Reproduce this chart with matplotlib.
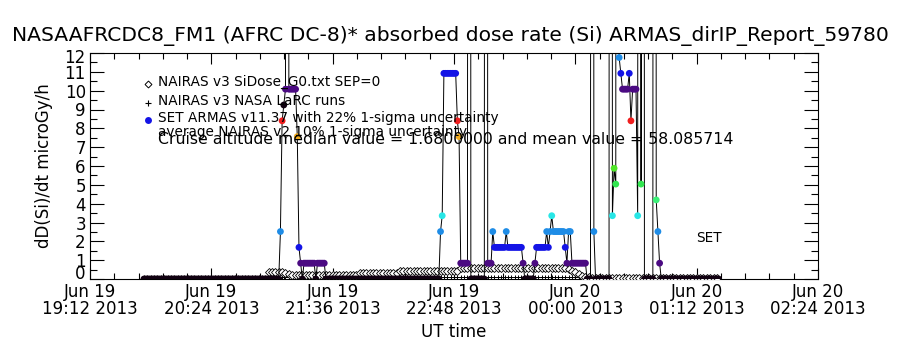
import matplotlib
matplotlib.use('Agg')
import matplotlib.pyplot as plt
from matplotlib.lines import Line2D
import matplotlib.transforms as mtransforms
import numpy as np

# ---------------- data ----------------
# time axis: minutes after Jun 19 19:12 UT
tick_minutes = [0, 72, 144, 216, 288, 360, 432]
tick_labels = ["Jun 19\n19:12 2013", "Jun 19\n20:24 2013", "Jun 19\n21:36 2013",
               "Jun 19\n22:48 2013", "Jun 20\n00:00 2013", "Jun 20\n01:12 2013",
               "Jun 20\n02:24 2013"]
y_ticks = [0, 1, 2, 3, 4, 5, 6, 7, 8, 9, 10, 11, 12]

# SET ARMAS: one sample per minute starting at minute 32, in counts (1 count = 0.84 microGy/h)
armas_start_minute = 32
dose_per_count = 0.84
armas_counts = [
    0,0,0,0,0,0,0,0,0,0,0,0,0,0,0,0,0,0,0,0,
    0,0,0,0,0,0,0,0,0,0,0,0,0,0,0,0,0,0,0,0,
    0,0,0,0,0,0,0,0,0,0,0,0,0,0,0,0,0,0,0,0,
    0,0,0,0,0,0,0,0,0,0,0,0,0,0,0,0,0,0,0,0,      # t=32..111
    0,3,10,11,12,300,12,12,12,12,12,9,2,1,0,           # t=112..126
    1,1,1,1,1,1,1,0,1,1,1,1,1,                         # t=127..139
    0,0,0,0,0,0,0,0,0,0,0,0,0,0,0,0,0,0,0,0,
    0,0,0,0,0,0,0,0,0,0,0,0,0,0,0,0,0,0,0,0,
    0,0,0,0,0,0,0,0,0,0,0,0,0,0,0,0,0,0,0,0,
    0,0,0,0,0,0,0,0,                                   # t=140..207
    3,4,13,13,13,13,13,13,13,13,10,9,1,1,1,1,1,300,0,  # t=208..226
    0,0,0,0,0,0,0,0,300,1,1,1,3,                       # t=227..239
    2,2,2,2,2,2,2,3,2,2,2,2,2,2,2,2,2,1,               # t=240..257
    0,0,0,0,0,0,1,2,2,2,2,2,2,3,2,3,4,                 # t=258..274
    3,3,3,3,3,3,3,2,1,3,3,1,1,1,1,1,1,1,1,1,           # t=275..294
    0,0,0,300,3,0,0,0,0,0,0,0,0,0,                     # t=295..308
    300,4,7,6,300,14,13,12,12,12,12,13,10,12,12,12,4,300,6,300,  # t=309..328
    0,0,0,0,0,0,300,5,3,1,                             # t=329..338
    0,0,0,0,0,0,0,0,0,0,0,0,0,0,0,0,0,0,0,0,
    0,0,0,0,0,0,0,0,0,0,0,0,0,0,0,                     # t=339..373
]

# NAIRAS v3 SiDose_G0 (diamonds), every 2 minutes from minute 106
nairas_g0_start = 106
nairas_g0 = [0.35,0.35,0.35,0.35,0.35,0.30,0.25,0.22,
             0.20,0.20,0.20,0.20,0.20,0.20,0.20,0.20,0.20,0.20,
             0.20,0.20,0.20,0.20,0.20,0.20,0.20,0.20,0.20,
             0.30,0.30,0.30,0.30,0.30,0.30,0.30,0.30,0.30,0.30,0.30,0.30,
             0.42,0.42,0.42,0.42,0.42,0.42,0.42,0.42,0.42,
             0.42,0.42,0.42,0.42,0.42,0.42,0.42,0.42,0.42,
             0.60,0.60,0.60,0.60,0.60,0.60,0.60,0.60,0.60,0.60,0.60,
             0.60,0.60,0.60,0.60,0.60,0.60,0.60,0.60,0.60,0.60,0.60,
             0.60,0.60,0.60,0.60,0.60,0.60,0.60,0.60,0.60,0.60,
             0.55,0.45,0.35,0.25,0.18,0.12,0.08,
             0.05,0.05,0.05,0.05,0.05,0.05,0.05,0.05,0.05,0.05,
             0.05,0.05,0.05,0.05,0.05,0.05,0.05,0.05,0.05,0.05,
             0.05,0.05,0.05,0.05,0.05,0.05,0.05,0.05,0.05,0.05,
             0.05,0.05,0.05,0.05,0.05,0.05,0.05,0.05]

# NAIRAS v3 NASA LaRC runs, every 2 minutes from minute 32
nairas_larc_start = 32
nairas_larc = [
    0.10,0.10,0.10,0.10,0.10,0.10,0.10,0.10,0.10,0.10,0.10,0.10,0.10,0.10,0.10,
    0.10,0.10,0.10,0.10,0.10,0.10,0.10,0.10,0.10,0.10,0.10,0.10,0.10,0.10,0.10,
    0.10,0.10,0.10,0.10,0.10,0.10,0.10,0.10,0.10,0.10,0.10,0.10,0.10,0.10,0.10,
    0.10,0.10,0.10,0.10,0.10,0.10,0.10,0.10,0.10,0.10,0.10,0.10,0.10,0.10,0.10,
    0.10,0.10,0.10,0.10,0.10,0.10,0.10,0.10,0.10,0.10,0.10,0.10,0.10,0.10,0.10,
    0.10,0.10,0.10,0.10,0.10,0.10,0.10,0.10,0.10,0.10,0.10,0.10,0.10,0.10,0.10,
    0.10,0.10,0.10,0.10,0.10,0.10,0.10,0.10,0.10,0.10,0.10,0.10,0.10,0.10,0.10,
    0.10,0.10,0.10,0.10,0.10,0.10,0.10,0.10,0.10,0.10,0.10,0.10,0.10,0.10,0.10,
    0.10,0.10,0.10,0.10,0.10,0.10,0.10,0.10,0.10,0.10,0.10,0.10,0.10,0.10,0.10,
    0.10,0.10,0.10,0.10,0.10,0.10,0.10,0.10,0.10,0.10,0.10,0.10,0.10,0.10,0.10,
    0.10,0.10,0.10,0.10,0.10,0.10,0.10,0.10,0.10,0.10,0.10]

title = "NASAAFRCDC8_FM1 (AFRC DC-8)* absorbed dose rate (Si) ARMAS_dirIP_Report_59780"
legend_labels = ["NAIRAS v3 SiDose_G0.txt SEP=0", "NAIRAS v3 NASA LaRC runs",
                 "SET ARMAS v11.37 with 22% 1-sigma uncertainty",
                 "average NAIRAS v2 10% 1-sigma uncertainty"]
stats_text = "Cruise altitude median value = 1.6800000 and mean value = 58.085714"
set_label = "SET"
set_label_pos = (367, 2.2)   # (minutes after 19:12, microGy/h)

# colour table cycling with count level
level_colors = ['#100010', '#4B0A82', '#1414E6', '#1E8CE6', '#28E6E6', '#3CF078',
                '#32E650', '#50E628', '#C8E614', '#F0AA1E', '#F01E1E']

# ---------------- figure ----------------
plt.rcParams['font.family'] = ['DejaVu Sans']
fig = plt.figure(figsize=(9, 3.5), dpi=100)
W, H = 900, 350
L, R, T, B = 90, 818, 53, 279
ax = fig.add_axes([L / W, 1 - B / H, (R - L) / W, (B - T) / H])

# NAIRAS LaRC
t_larc = nairas_larc_start + 2 * np.arange(len(nairas_larc))
ax.plot(t_larc, nairas_larc, color='black', lw=0.6, marker='+', ms=3.5, mew=0.7,
        linestyle='-', zorder=2)
# NAIRAS G0
t_g0 = nairas_g0_start + 2 * np.arange(len(nairas_g0))
ax.plot(t_g0, nairas_g0, color='black', lw=0.6, marker='D', ms=3.6, mfc='white',
        mec='black', mew=0.6, zorder=3)

# ARMAS
counts = np.array(armas_counts)
t_armas = armas_start_minute + np.arange(len(counts))
dose = counts * dose_per_count
ax.plot(t_armas, dose, color='black', lw=0.7, zorder=4)
cols = [level_colors[c % 11] for c in counts]
ax.scatter(t_armas, dose, c=cols, s=24, marker='o', edgecolors='none', zorder=5)

ax.set_xlim(tick_minutes[0], tick_minutes[-1])
ax.set_ylim(y_ticks[0], y_ticks[-1])
ax.set_xticks(tick_minutes)
ax.set_xticklabels(tick_labels, fontsize=12, linespacing=0.95)
ax.set_xticks(np.arange(0, 433, 14.4), minor=True)
ax.set_yticks(y_ticks)
ax.set_yticks(np.arange(0, 12.01, 0.5), minor=True)
ax.tick_params(axis='both', which='both', direction='in', top=True, right=True,
               colors='black', width=0.8)
ax.tick_params(axis='y', which='major', length=10, pad=3, labelsize=12)
ax.tick_params(axis='y', which='minor', length=5)
ax.tick_params(axis='x', which='major', length=8, pad=3, labelsize=12)
ax.tick_params(axis='x', which='minor', length=4)
for s in ax.spines.values():
    s.set_linewidth(0.8)

# IDL-style: edge labels pulled inside the axis range
ylabels = ax.get_yticklabels()
ylabels[0].set_transform(ylabels[0].get_transform() +
                         mtransforms.ScaledTranslation(0, 7 / 100, fig.dpi_scale_trans))
ylabels[-1].set_transform(ylabels[-1].get_transform() +
                          mtransforms.ScaledTranslation(0, -3 / 100, fig.dpi_scale_trans))

ax.set_xlabel("UT time", fontsize=12, labelpad=3)
ax.set_ylabel("dD(Si)/dt microGy/h", fontsize=12, labelpad=8)
fig.text(0.5, 1 - 36 / H, title, ha='center', va='center', fontsize=14.6)

# legend drawn IDL-like: symbol column + text column
sym_x = 148 / W
txt_x = 158 / W
rows_y = [82, 101, 118, 132]
syms = [dict(marker='D', ms=3.5, mfc='white', mec='black', mew=0.7),
        dict(marker='+', ms=5, color='black', mew=0.8),
        dict(marker='o', ms=5, color='#1414E6', mec='none'),
        None]
for lab, yy, sm in zip(legend_labels, rows_y, syms):
    if sm is not None:
        fig.add_artist(Line2D([sym_x], [1 - (yy + 2) / H], linestyle='none',
                              transform=fig.transFigure, **sm))
    fig.text(txt_x, 1 - yy / H, lab, ha='left', va='center', fontsize=9.8)
fig.text(txt_x, 1 - 140 / H, stats_text, ha='left', va='center', fontsize=11.3)
ax.text(set_label_pos[0], set_label_pos[1], set_label, ha='center', va='center',
        fontsize=9.8)

fig.savefig('out.png', dpi=100, facecolor='white')
